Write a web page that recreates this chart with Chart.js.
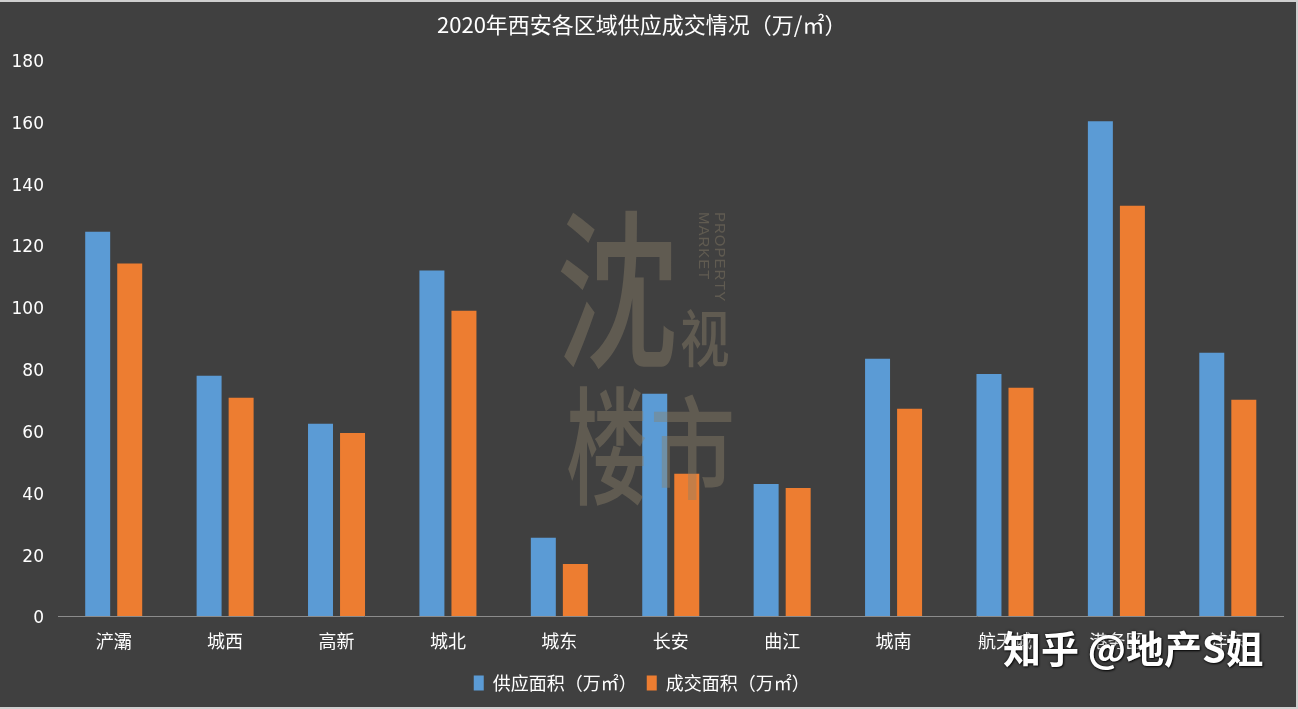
<!DOCTYPE html>
<html>
<head>
<meta charset="utf-8">
<script src="https://cdn.jsdelivr.net/npm/chart.js@4.4.1/dist/chart.umd.min.js"></script>
<style>
  html, body { margin: 0; padding: 0; background: #404040; }
  #wrap { position: relative; width: 1298px; height: 709px; background: #404040; overflow: hidden; }
  #c { position: absolute; left: 0; top: 0; }
  .wm { position: absolute; color: rgba(140,128,106,0.42); font-family: "Noto Sans CJK SC", sans-serif; line-height: 1; pointer-events: none; white-space: nowrap; transform-origin: 0 0; }
  .wm2 { position: absolute; color: rgba(140,128,106,0.42); font-family: "Liberation Sans", "DejaVu Sans", sans-serif; line-height: 1; pointer-events: none; white-space: nowrap; transform-origin: 0 0; font-size: 15px; letter-spacing: 1px; }
  #zh { position: absolute; left: 1003px; top: 624px; color: #ffffff; font-family: "Noto Sans CJK SC", sans-serif; font-weight: 700; font-size: 38px; line-height: 1.2; white-space: nowrap; text-shadow: 0 0 3px rgba(0,0,0,0.8), 1px 1px 2px rgba(0,0,0,0.8); pointer-events: none; }
  #frame { position: absolute; left: 0; top: 0; border-top: 2px solid #cfcfcf; border-right: 2px solid #cfcfcf; border-bottom: 2px solid #cfcfcf; box-sizing: border-box; width: 1298px; height: 709px; pointer-events: none; }
</style>
</head>
<body>
<div id="wrap">
  <canvas id="c" width="1298" height="709"></canvas>
  <div class="wm" style="left:556px; top:196px; font-size:170px; transform: scaleX(0.72); font-weight:500;">沈</div>
  <div class="wm" style="left:680px; top:304px; font-size:62px; transform: scaleX(0.8); font-weight:500;">视</div>
  <div class="wm" style="left:566px; top:376px; font-size:128px; transform: scaleX(0.64); font-weight:500;">楼</div>
  <div class="wm" style="left:650px; top:386px; font-size:112px; transform: scaleX(0.76); font-weight:500;">市</div>
  <div class="wm2" style="left:728px; top:212px; transform: rotate(90deg);">PROPERTY</div>
  <div class="wm2" style="left:712px; top:212px; transform: rotate(90deg);">MARKET</div>
  <div id="zh">知乎 @地产S姐</div>
  <div id="frame"></div>
</div>
<script>
const categories = ['浐灞', '城西', '高新', '城北', '城东', '长安', '曲江', '城南', '航天城', '港务区', '沣东'];
const supplyArea = [124.3, 77.7, 62.2, 111.7, 25.3, 71.9, 42.7, 83.2, 78.3, 160.0, 85.1];
const dealArea = [114.0, 70.6, 59.2, 98.7, 16.8, 46.0, 41.4, 67.0, 73.8, 132.7, 69.9];
const seriesNames = ['供应面积（万㎡）', '成交面积（万㎡）'];
const chartTitle = '2020年西安各区域供应成交情况（万/㎡）';
const yMin = 0, yMax = 180, yStep = 20;

const cjk = '"Noto Sans CJK SC", "Microsoft YaHei", sans-serif';

new Chart(document.getElementById('c'), {
  type: 'bar',
  data: {
    labels: categories,
    datasets: [
      { label: seriesNames[0], data: supplyArea, backgroundColor: '#5B9BD5', borderWidth: 0, categoryPercentage: 0.575, barPercentage: 0.78 },
      { label: seriesNames[1], data: dealArea, backgroundColor: '#ED7D31', borderWidth: 0, categoryPercentage: 0.575, barPercentage: 0.78 }
    ]
  },
  options: {
    responsive: false,
    animation: false,
    layout: { padding: { left: 0, right: 14.5, top: 0, bottom: 7 } },
    plugins: {
      title: {
        display: true,
        text: chartTitle,
        color: '#ffffff',
        font: { family: cjk, size: 22, weight: 'normal' },
        padding: { top: 11, bottom: 22 }
      },
      legend: {
        position: 'bottom',
        labels: {
          color: '#ffffff',
          font: { family: cjk, size: 18 },
          boxWidth: 10,
          boxHeight: 15,
          padding: 10
        }
      },
      tooltip: { enabled: false }
    },
    scales: {
      x: {
        grid: { display: false },
        border: { display: true, color: '#8c8c8c', width: 1 },
        ticks: { color: '#ffffff', font: { family: cjk, size: 18 }, padding: 6, maxRotation: 0, autoSkip: false },
        afterFit: (s) => { s.height = 48; }
      },
      y: {
        min: yMin, max: yMax,
        grid: { display: false },
        border: { display: false },
        ticks: { stepSize: yStep, color: '#ffffff', font: { family: '"DejaVu Sans", sans-serif', size: 17 }, padding: 6, labelOffset: 3 },
        afterFit: (s) => { s.width = 58; }
      }
    }
  }
});
</script>
</body>
</html>
